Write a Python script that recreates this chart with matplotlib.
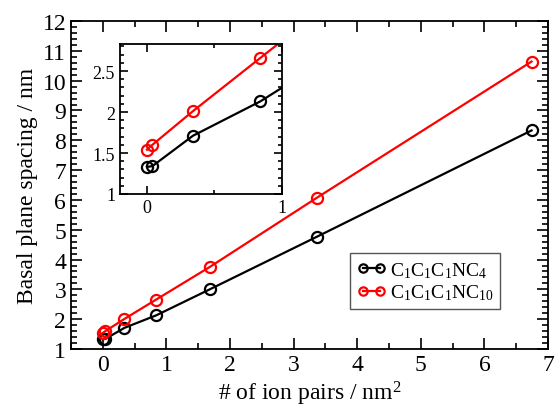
import matplotlib
matplotlib.use("Agg")
import matplotlib.pyplot as plt
from matplotlib.ticker import MultipleLocator

plt.rcParams['font.family'] = ['Liberation Serif', 'DejaVu Serif']
plt.rcParams['mathtext.fontset'] = 'custom'
plt.rcParams['mathtext.rm'] = 'Liberation Serif'
plt.rcParams['mathtext.it'] = 'Liberation Serif:italic'

# data
ion_pairs = [0.0, 0.04, 0.34, 0.84, 1.68, 3.37, 6.74]
spacing_c4 = [1.33, 1.34, 1.71, 2.13, 3.00, 4.77, 8.33]
spacing_c10 = [1.54, 1.60, 2.01, 2.66, 3.75, 6.08, 10.64]
labels = [r'C$_1$C$_1$C$_1$NC$_4$', r'C$_1$C$_1$C$_1$NC$_{10}$']
colors = ['black', 'red']

fig = plt.figure(figsize=(5.57, 4.10), dpi=100)
ax = fig.add_axes([0.1275, 0.1463, 0.8565, 0.80])


def style(a, fs, maj, mn):
    a.tick_params(which='both', direction='in', top=True, right=True,
                  labelsize=fs, width=1.2)
    a.tick_params(which='major', length=maj)
    a.tick_params(which='minor', length=mn)
    for s in a.spines.values():
        s.set_linewidth(1.3)


for ys, c, lab in zip([spacing_c4, spacing_c10], colors, labels):
    ax.plot(ion_pairs, ys, color=c, lw=1.6, marker='o', ms=8,
            mfc='none', mec=c, mew=1.6, label=lab)

ax.set_xlim(-0.5, 7)
ax.set_ylim(1, 12)
ax.xaxis.set_major_locator(MultipleLocator(1))
ax.xaxis.set_minor_locator(MultipleLocator(0.5))
ax.yaxis.set_major_locator(MultipleLocator(1))
ax.yaxis.set_minor_locator(MultipleLocator(0.2))
style(ax, 17, 8, 4)
ax.set_xlabel(r'# of ion pairs / nm$^2$', fontsize=17, labelpad=3)
ax.set_ylabel('Basal plane spacing / nm', fontsize=17, labelpad=3)

leg = ax.legend(loc='upper left', bbox_to_anchor=(350 / 557, 1 - 254 / 410),
                bbox_transform=fig.transFigure, numpoints=2, fontsize=14,
                fancybox=False, framealpha=1, edgecolor='#555555',
                handlelength=1.5, handletextpad=0.2, borderpad=0.35,
                labelspacing=0.15, borderaxespad=0)
leg.get_frame().set_linewidth(1.0)
for h in leg.get_lines():
    h.set_markersize(6)

ins = fig.add_axes([0.2154, 0.5244, 0.2908, 0.3659])
for ys, c in zip([spacing_c4, spacing_c10], colors):
    ins.plot(ion_pairs, ys, color=c, lw=1.6, marker='o', ms=8,
             mfc='none', mec=c, mew=1.6)
ins.set_xlim(-0.2, 1)
ins.set_ylim(1, 2.83)
ins.xaxis.set_major_locator(MultipleLocator(1))
ins.xaxis.set_minor_locator(MultipleLocator(0.5))
ins.yaxis.set_major_locator(MultipleLocator(0.5))
ins.yaxis.set_minor_locator(MultipleLocator(0.1))
ins.set_yticks([1, 1.5, 2, 2.5])
ins.set_yticklabels(['1', '1.5', '2', '2.5'])
style(ins, 13, 6, 3)

fig.savefig('out.png', dpi=100)
